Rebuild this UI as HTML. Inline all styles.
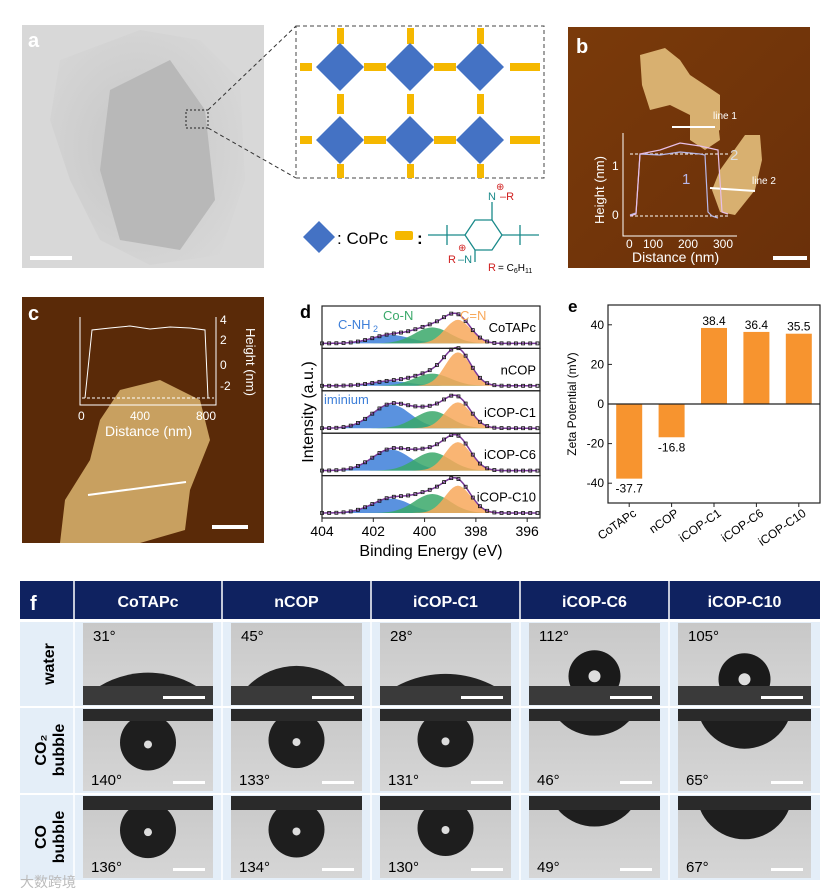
<!DOCTYPE html>
<html><head><meta charset="utf-8"><style>
html,body{margin:0;padding:0;background:#fff}
svg{display:block;font-family:"Liberation Sans",Arial,sans-serif}
</style></head><body>
<svg id="fig" width="838" height="894" viewBox="0 0 838 894" xmlns="http://www.w3.org/2000/svg">
<defs id="defs">
<radialGradient id="tem" cx="0.45" cy="0.5" r="0.7"><stop offset="0" stop-color="#c4c4c4"/><stop offset="1" stop-color="#dadada"/></radialGradient>
<linearGradient id="afm" x1="0" y1="0" x2="1" y2="1"><stop offset="0" stop-color="#7a3a0a"/><stop offset="1" stop-color="#6a300a"/></linearGradient>
<linearGradient id="photo" x1="0" y1="0" x2="0" y2="1"><stop offset="0" stop-color="#c8c8c8"/><stop offset="1" stop-color="#d6d6d6"/></linearGradient>
</defs>

<g>
<rect x="22" y="25" width="242" height="243" fill="#d8d8d8"/>
<path d="M60 60 L140 30 L200 40 L240 80 L245 180 L220 255 L150 265 L100 240 L70 180 L50 120 Z" fill="url(#tem)" opacity="0.9"/>
<path d="M110 90 L170 60 L205 110 L215 200 L180 250 L120 240 L100 170 Z" fill="#b8b8b8"/>
<rect x="186" y="110" width="22" height="18" fill="none" stroke="#222" stroke-dasharray="2,2"/>
<text x="28" y="47" font-size="20" font-weight="bold" fill="#fff">a</text>
<rect x="30" y="256" width="42" height="4" fill="#fff"/>
<line x1="208" y1="110" x2="296" y2="26" stroke="#333" stroke-dasharray="4,3"/>
<line x1="208" y1="128" x2="296" y2="178" stroke="#333" stroke-dasharray="4,3"/>
</g>

<g>
<rect x="296" y="26" width="248" height="152" fill="#fff" stroke="#444" stroke-dasharray="4,3"/>
<g id="schem"></g>
<path d="M303 237 l16 -16 l16 16 l-16 16 z" fill="#4472c4"/>
<text x="337" y="244" font-size="17" fill="#000">: CoPc</text>
<rect x="395" y="231" width="18" height="9" rx="2" fill="#f5b800"/>
<text x="417" y="244" font-size="17" font-weight="bold" fill="#000">:</text>
<g stroke="#1a8a8a" stroke-width="1.3" fill="none">
<line x1="428" y1="235" x2="465" y2="235"/><line x1="447" y1="225" x2="447" y2="245"/>
<path d="M465 235 L475 220 L492 220 L502 235 L492 250 L475 250 Z"/>
<line x1="502" y1="235" x2="539" y2="235"/><line x1="520" y1="225" x2="520" y2="245"/>
<line x1="492" y1="220" x2="492" y2="202"/><line x1="475" y1="250" x2="475" y2="262"/>
</g>
<text x="488" y="200" font-size="11" fill="#1a8a8a">N</text><text x="500" y="200" font-size="11" fill="#d02020">–R</text>
<text x="496" y="190" font-size="10" fill="#d02020">⊕</text>
<text x="448" y="263" font-size="11" fill="#d02020">R</text><text x="458" y="263" font-size="11" fill="#1a8a8a">–N</text>
<text x="458" y="251" font-size="10" fill="#d02020">⊕</text>
<text x="488" y="271" font-size="11" fill="#d02020">R</text><text x="498" y="271" font-size="10" fill="#000">= C<tspan font-size="7" dy="2">6</tspan><tspan dy="-2">H</tspan><tspan font-size="7" dy="2">11</tspan></text>
</g>

<g>
<rect x="568" y="27" width="242" height="241" fill="url(#afm)"/>
<path d="M640 55 L665 48 L680 60 L690 75 L705 85 L720 95 L720 130 L700 140 L690 115 L670 105 L650 110 L642 85 Z" fill="#d8b070"/>
<path d="M690 100 L715 95 L720 140 L705 150 L690 140 Z" fill="#d8b070"/>
<path d="M745 135 L760 135 L762 160 L755 190 L735 215 L720 212 L712 190 L720 170 Z" fill="#d8b070"/>
<text x="576" y="53" font-size="20" font-weight="bold" fill="#fff">b</text>
<rect x="773" y="256" width="34" height="4" fill="#fff"/>
<line x1="672" y1="127" x2="715" y2="127" stroke="#fff" stroke-width="2"/>
<text x="713" y="119" font-size="10" fill="#fff">line 1</text>
<line x1="710" y1="188" x2="755" y2="191" stroke="#fff" stroke-width="2"/>
<text x="752" y="184" font-size="10" fill="#fff">line 2</text>
<g>
<polyline points="623,133 623,236 737,236" fill="none" stroke="#fff"/>
<line x1="630" y1="154" x2="730" y2="154" stroke="#fff" stroke-dasharray="3,2"/>
<line x1="630" y1="216" x2="730" y2="216" stroke="#fff" stroke-dasharray="3,2"/>
<polyline points="630,215 636,213 640,154 660,155 680,152 700,154 705,155 708,212 712,216 718,218" fill="none" stroke="#b8b8e8" stroke-width="1.2"/>
<polyline points="630,216 636,214 640,154 660,150 680,143 700,146 718,150 722,212 728,214" fill="none" stroke="#e8c0e8" stroke-width="1.2"/>
<text x="730" y="160" font-size="15" fill="#ddd">2</text><text x="682" y="184" font-size="15" fill="#b8b8e8">1</text>
<text x="612" y="170" font-size="12" fill="#fff">1</text><text x="612" y="219" font-size="12" fill="#fff">0</text>
<text x="604" y="190" font-size="13" fill="#fff" text-anchor="middle" transform="rotate(-90 604 190)">Height (nm)</text>
<text x="626" y="248" font-size="12" fill="#fff">0</text><text x="643" y="248" font-size="12" fill="#fff">100</text><text x="678" y="248" font-size="12" fill="#fff">200</text><text x="713" y="248" font-size="12" fill="#fff">300</text>
<text x="632" y="262" font-size="14" fill="#fff">Distance (nm)</text>
</g>
</g>

<g>
<rect x="22" y="297" width="242" height="246" fill="#5a2a08"/>
<path d="M120 390 L160 380 L200 400 L210 440 L190 490 L185 530 L140 543 L60 543 L65 500 L90 460 L100 420 Z" fill="#c8a060"/>
<text x="28" y="320" font-size="20" font-weight="bold" fill="#fff">c</text>
<rect x="212" y="525" width="36" height="4" fill="#fff"/>
<line x1="88" y1="495" x2="186" y2="482" stroke="#fff" stroke-width="2"/>
<polyline points="80,317 80,405 216,405 216,317" fill="none" stroke="#fff"/>
<line x1="82" y1="398" x2="214" y2="398" stroke="#fff" stroke-dasharray="3,2"/>
<polyline points="85,398 92,330 110,328 130,326 150,329 170,327 190,328 205,330 208,398" fill="none" stroke="#fff"/>
<text x="220" y="324" font-size="12" fill="#fff">4</text><text x="220" y="344" font-size="12" fill="#fff">2</text><text x="220" y="369" font-size="12" fill="#fff">0</text><text x="220" y="390" font-size="12" fill="#fff">-2</text>
<text x="246" y="362" font-size="13" fill="#fff" text-anchor="middle" transform="rotate(90 246 362)">Height (nm)</text>
<text x="78" y="420" font-size="12" fill="#fff">0</text><text x="130" y="420" font-size="12" fill="#fff">400</text><text x="196" y="420" font-size="12" fill="#fff">800</text>
<text x="105" y="436" font-size="14" fill="#fff">Distance (nm)</text>
</g>

<g id="xps"></g>
<g id="zeta"></g>
<g id="table"></g>

<text x="20" y="887" font-size="14" fill="#bbb">大数跨境</text>
</svg>
<script>
const NS="http://www.w3.org/2000/svg";
function mk(p,tag,a,txt){const e=document.createElementNS(NS,tag);for(const k in a)e.setAttribute(k,a[k]);if(txt!==undefined)e.textContent=txt;p.appendChild(e);return e;}

(function(){
const g=document.getElementById('schem');
const xs=[340,410,480], ys=[67,140], h=24;
ys.forEach(y=>{
  mk(g,'rect',{x:300,y:y-4,width:12,height:8,fill:'#f5b800'});
  mk(g,'rect',{x:510,y:y-4,width:30,height:8,fill:'#f5b800'});
  for(let i=0;i<2;i++) mk(g,'rect',{x:xs[i]+h,y:y-4,width:70-2*h,height:8,fill:'#f5b800'});
});
xs.forEach(x=>{
  mk(g,'rect',{x:x-3,y:28,width:7,height:16,fill:'#f5b800'});
  mk(g,'rect',{x:x-3,y:94,width:7,height:20,fill:'#f5b800'});
  mk(g,'rect',{x:x-3,y:164,width:7,height:14,fill:'#f5b800'});
});
xs.forEach(x=>ys.forEach(y=>{
  const d=mk(g,'path',{d:`M${x-h} ${y} L${x} ${y-h} L${x+h} ${y} L${x} ${y+h} Z`,fill:'#4472c4'});
  
  
}));
})();

const samples=['CoTAPc','nCOP','iCOP-C1','iCOP-C6','iCOP-C10'];
const peakCenters=[401.3,399.7,398.7];
const peakWidths=[0.75,0.7,0.5];
const ampNH=[0.22,0.12,0.62,0.55,0.38];
const ampCoN=[0.42,0.32,0.45,0.48,0.5];
const ampCN=[0.62,0.88,0.68,0.75,0.72];
const eTicks=[404,402,400,398,396];
(function(){
const g=document.getElementById('xps');
const x0=322,x1=540,eL=404,eR=395.5;
const X=e=>x0+(eL-e)/(eL-eR)*(x1-x0);
const top=306,ph=42.4;
const cols=['#3d7fd9','#3aa86a','#f8a85a'];
mk(g,'text',{x:300,y:318,'font-size':18,'font-weight':'bold'},'d');
samples.forEach((s,i)=>{
  const yt=top+i*ph, yb=yt+ph, base=yb-5, sc=38;
  const Y=v=>base-v*sc;
  const amps=[ampNH[i],ampCoN[i],ampCN[i]];
  const pk=(k,e)=>amps[k]*Math.exp(-Math.pow((e-peakCenters[k])/peakWidths[k],2)/2);
  for(let k=0;k<3;k++){
    let d=`M${X(eL)} ${base}`;
    for(let e=eL;e>=eR;e-=0.1) d+=` L${X(e).toFixed(1)} ${Y(pk(k,e)).toFixed(1)}`;
    d+=` L${X(eR)} ${base} Z`;
    const p=mk(g,'path',{d,fill:cols[k],opacity:0.85});
    
    
  }
  let d='';
  for(let e=eL;e>=eR;e-=0.1){const v=pk(0,e)+pk(1,e)+pk(2,e);d+=(d?' L':'M')+X(e).toFixed(1)+' '+Y(v).toFixed(1);}
  const env=mk(g,'path',{d,fill:'none',stroke:'#7a3a9a','stroke-width':1.5});
  
  
  for(let e=eL;e>=eR;e-=0.28){const v=pk(0,e)+pk(1,e)+pk(2,e);mk(g,'rect',{x:X(e)-1.5,y:Y(v)-1.5,width:3,height:3,fill:'none',stroke:'#111','stroke-width':0.8});}
  mk(g,'rect',{x:x0,y:yt,width:x1-x0,height:ph,fill:'none',stroke:'#222','stroke-width':1.2});
  const t=mk(g,'text',{x:x1-4,y:yt+26,'font-size':13,'text-anchor':'end'},s);
  
  
});
mk(g,'text',{x:338,y:329,'font-size':13,fill:'#3d7fd9'},'C-NH');
mk(g,'text',{x:373,y:332,'font-size':9,fill:'#3d7fd9'},'2');
mk(g,'text',{x:383,y:320,'font-size':13,fill:'#3aa86a'},'Co-N');
mk(g,'text',{x:460,y:320,'font-size':13,fill:'#f8a85a'},'C=N');
mk(g,'text',{x:324,y:404,'font-size':13,fill:'#3d7fd9'},'iminium');
eTicks.forEach(e=>{
  mk(g,'line',{x1:X(e),y1:518,x2:X(e),y2:522,stroke:'#222'});
  mk(g,'text',{x:X(e),y:536,'font-size':14,'text-anchor':'middle'},e);
});
mk(g,'text',{x:431,y:556,'font-size':16,'text-anchor':'middle'},'Binding Energy (eV)');
mk(g,'text',{x:313,y:412,'font-size':16,'text-anchor':'middle',transform:'rotate(-90 313 412)'},'Intensity (a.u.)');
})();

const zCats=['CoTAPc','nCOP','iCOP-C1','iCOP-C6','iCOP-C10'];
const zVals=[-37.7,-16.8,38.4,36.4,35.5];
const zTicks=[-40,-20,0,20,40];
(function(){
const g=document.getElementById('zeta');
const x0=608,x1=820,yT=305,yB=503,vMin=-50,vMax=50;
const Y=v=>yB-(v-vMin)/(vMax-vMin)*(yB-yT);
const bw=(x1-x0)/zCats.length;
mk(g,'text',{x:568,y:312,'font-size':17,'font-weight':'bold'},'e');
zVals.forEach((v,i)=>{
  const cx=x0+bw*(i+0.5);
  const r=mk(g,'rect',{x:cx-13,y:Math.min(Y(v),Y(0)),width:26,height:Math.abs(Y(v)-Y(0)),fill:'#f7942f'});
  
  
  mk(g,'text',{x:cx,y:v>0?Y(v)-3:Y(v)+14,'font-size':12,'text-anchor':'middle'},v.toFixed(1));
  mk(g,'line',{x1:cx,y1:yB,x2:cx,y2:yB+4,stroke:'#222'});
  mk(g,'text',{x:cx+8,y:yB+12,'font-size':12,'text-anchor':'end',transform:`rotate(-35 ${cx+8} ${yB+12})`},zCats[i]);
});
mk(g,'line',{x1:x0,y1:Y(0),x2:x1,y2:Y(0),stroke:'#222','stroke-width':1.2});
mk(g,'rect',{x:x0,y:yT,width:x1-x0,height:yB-yT,fill:'none',stroke:'#222','stroke-width':1.2});
zTicks.forEach(t=>{
  mk(g,'line',{x1:x0,y1:Y(t),x2:x0+4,y2:Y(t),stroke:'#222'});
  mk(g,'text',{x:x0-4,y:Y(t)+4,'font-size':12,'text-anchor':'end'},t);
});
mk(g,'text',{x:576,y:404,'font-size':12,'text-anchor':'middle',transform:'rotate(-90 576 404)'},'Zeta Potential (mV)');
})();

const colNames=['CoTAPc','nCOP','iCOP-C1','iCOP-C6','iCOP-C10'];
const angleWater=[31,45,28,112,105];
const angleCO2=[140,133,131,46,65];
const angleCO=[136,134,130,49,67];
(function(){
const g=document.getElementById('table');
const defs=document.getElementById('defs');
const cx=[74,222,371,520,669,820];
mk(g,'rect',{x:20,y:581,width:800,height:38,fill:'#0f2260'});
mk(g,'rect',{x:20,y:620,width:800,height:260,fill:'#e4eef8'});
mk(g,'text',{x:30,y:610,'font-size':20,'font-weight':'bold',fill:'#fff'},'f');
colNames.forEach((n,i)=>{
  mk(g,'line',{x1:cx[i],y1:581,x2:cx[i],y2:880,stroke:'#fff','stroke-width':1.5});
  const t=mk(g,'text',{x:(cx[i]+cx[i+1])/2,y:607,'font-size':16,'font-weight':'bold',fill:'#fff','text-anchor':'middle'},n);
  
  
});
const rows=[{y:623,lab:['water'],ang:angleWater,type:0},{y:709,lab:['CO₂','bubble'],ang:angleCO2,type:1},{y:796,lab:['CO','bubble'],ang:angleCO,type:2}];
let cid=0;
rows.forEach(r=>{
  const my=r.y+41;
  if(r.lab.length===1) mk(g,'text',{x:54,y:my,'font-size':16,'font-weight':'bold','text-anchor':'middle',transform:`rotate(-90 54 ${my})`},r.lab[0]);
  else{mk(g,'text',{x:46,y:my,'font-size':16,'font-weight':'bold','text-anchor':'middle',transform:`rotate(-90 46 ${my})`},r.lab[0]);
       mk(g,'text',{x:64,y:my,'font-size':16,'font-weight':'bold','text-anchor':'middle',transform:`rotate(-90 64 ${my})`},r.lab[1]);}
  r.ang.forEach((a,i)=>{
    const x=cx[i]+9,w=cx[i+1]-cx[i]-18,h=82;
    const id='clip'+(cid++);
    const cp=mk(defs,'clipPath',{id});
    mk(cp,'rect',{x,y:r.y,width:w,height:h});
    const cell=mk(g,'g',{'clip-path':`url(#${id})`});
    
    
    mk(cell,'rect',{x,y:r.y,width:w,height:h,fill:'url(#photo)'});
    const mx=x+w/2;
    const rad=a*Math.PI/180;
    if(r.type===0){
      const sy=r.y+63;
      if(a<90){
        const half=w*0.37, R=half/Math.sin(rad), cyc=sy+R*Math.cos(rad);
        const cp2=mk(defs,'clipPath',{id:id+'w'});mk(cp2,'rect',{x,y:r.y,width:w,height:sy-r.y});
        mk(cell,'circle',{cx:mx,cy:cyc,r:R,fill:'#222','clip-path':`url(#${id}w)`});
      }else{
        const R=26, cyc=sy+R*Math.cos(rad);
        mk(cell,'circle',{cx:mx,cy:cyc,r:R,fill:'#1a1a1a'});
        mk(cell,'circle',{cx:mx,cy:cyc,r:6,fill:'#ddd'});
      }
      mk(cell,'rect',{x,y:sy,width:w,height:h,fill:'#3a3a3a'});
      mk(cell,'text',{x:x+10,y:r.y+18,'font-size':15},a+'°');
      mk(cell,'rect',{x:x+w-50,y:r.y+73,width:42,height:3,fill:'#fff'});
    }else{
      const sy=r.y+(r.type===1?12:14);
      // bubble: contact angle measured through water; bubble hangs below surface
      const ib=180-a; // angle inside bubble
      if(a>90){
        const R=28, cyc=sy+R*Math.cos(ib*Math.PI/180);
        mk(cell,'circle',{cx:mx,cy:cyc,r:R,fill:'#1e1e1e'});
        mk(cell,'circle',{cx:mx,cy:cyc+2,r:4,fill:'#ddd'});
      }else{
        const R=48, cyc=sy+R*Math.cos(ib*Math.PI/180);
        mk(cell,'circle',{cx:mx,cy:cyc,r:R,fill:'#1e1e1e'});
      }
      mk(cell,'rect',{x,y:r.y,width:w,height:sy-r.y,fill:'#2a2a2a'});
      mk(cell,'text',{x:x+8,y:r.y+h-6,'font-size':15},a+'°');
      mk(cell,'rect',{x:x+w-40,y:r.y+h-10,width:32,height:3,fill:'#fff'});
    }
  });
  mk(g,'line',{x1:20,y1:r.y-2,x2:820,y2:r.y-2,stroke:'#fff','stroke-width':2});
});
})();
</script>
</body></html>
